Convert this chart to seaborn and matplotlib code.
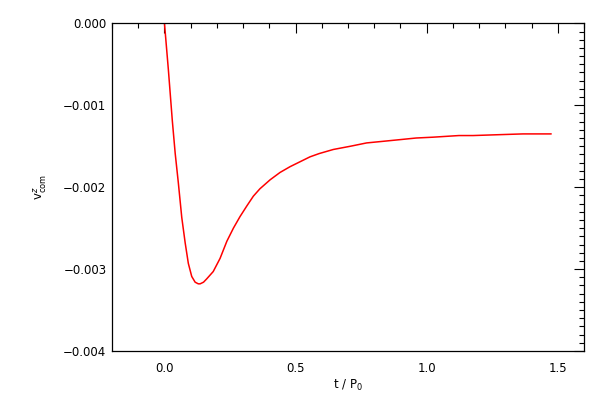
import pandas as pd
import seaborn as sns
import matplotlib
matplotlib.use("Agg")
import matplotlib.pyplot as plt
from matplotlib.ticker import MultipleLocator, FuncFormatter

# values
t_vals = [0.000, 0.015, 0.030, 0.041, 0.053, 0.066, 0.079, 0.091, 0.104,
          0.117, 0.129, 0.136, 0.149, 0.161, 0.186, 0.212, 0.238, 0.263,
          0.288, 0.314, 0.339, 0.364, 0.403, 0.441, 0.479, 0.517, 0.555,
          0.590, 0.644, 0.710, 0.771, 0.835, 0.898, 0.960, 1.024, 1.123,
          1.177, 1.270, 1.367, 1.475]
v_vals = [0.00000, -0.00057, -0.00119, -0.00159, -0.00195, -0.00237,
          -0.00268, -0.00293, -0.00309, -0.00316, -0.00318, -0.00318,
          -0.00316, -0.00312, -0.00303, -0.00287, -0.00266, -0.00250,
          -0.00236, -0.00223, -0.00211, -0.00202, -0.00191, -0.00182,
          -0.00175, -0.00169, -0.00163, -0.00159, -0.00154, -0.00150,
          -0.00146, -0.00144, -0.00142, -0.00140, -0.00139, -0.00137,
          -0.00137, -0.00136, -0.00135, -0.00135]

df = pd.DataFrame({"t": t_vals, "v": v_vals})

sns.set_theme(style="white")
plt.rcParams["font.family"] = ["DejaVu Sans"]
plt.rcParams["mathtext.fontset"] = "dejavusans"

fig = plt.figure(figsize=(6, 4), dpi=100)
ax = fig.add_axes([0.1867, 0.1225, 0.7866, 0.8192])

sns.lineplot(data=df, x="t", y="v", color="red", linewidth=1.1, ax=ax)

ax.set_xlim(-0.2, 1.6)
ax.set_ylim(-0.004, 0.0)

ax.xaxis.set_major_locator(MultipleLocator(0.5))
ax.xaxis.set_minor_locator(MultipleLocator(0.1))
ax.yaxis.set_major_locator(MultipleLocator(0.001))
ax.yaxis.set_minor_locator(MultipleLocator(0.0001))


def fmt(val, digits):
    s = f"{abs(val):.{digits}f}"
    return ("\u2212" + s) if val < -1e-12 else s


ax.xaxis.set_major_formatter(FuncFormatter(lambda v, p: fmt(v, 1)))
ax.yaxis.set_major_formatter(FuncFormatter(lambda v, p: fmt(v, 3)))

ax.tick_params(which="both", direction="in", top=True, right=True,
               color="black", width=0.8, labelsize=8.5, labelcolor="black")
ax.tick_params(axis="y", which="major", length=7.2, pad=4)
ax.tick_params(axis="x", which="major", length=7.2, pad=8)
ax.tick_params(which="minor", length=3.6)

for s in ax.spines.values():
    s.set_color("black")
    s.set_linewidth(0.9)

ax.set_xlabel(r"t / P$_0$", fontsize=8.5, color="black", labelpad=2)
ax.set_ylabel(r"v$^z_{\mathrm{com}}$", fontsize=8.5, color="black", labelpad=10)

fig.savefig("out.png", dpi=100, facecolor="white")
